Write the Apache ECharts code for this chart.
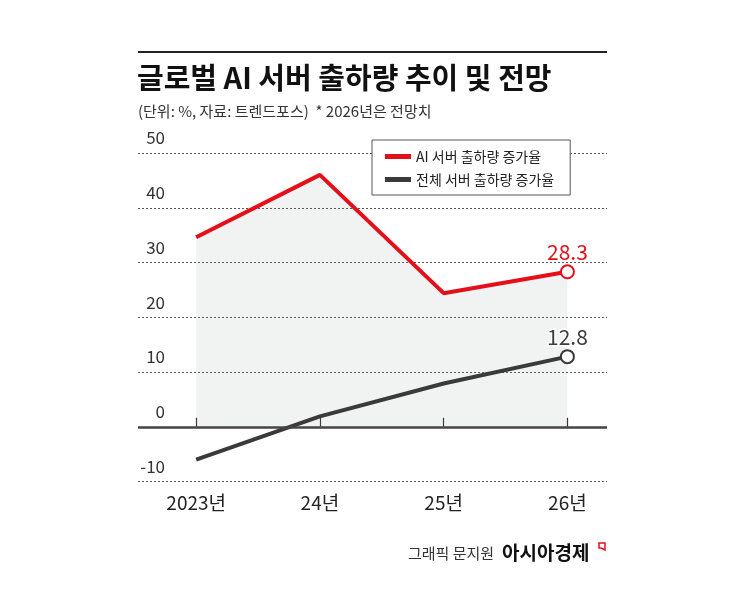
<!DOCTYPE html>
<html>
<head>
<meta charset="utf-8">
<script src="https://cdn.jsdelivr.net/npm/echarts@6/dist/echarts.min.js"></script>
<style>
html,body{margin:0;padding:0;background:#fff;}
#chart{width:745px;height:596px;}
</style>
</head>
<body>
<div id="chart"></div>
<script>
const categories = ['2023년', '24년', '25년', '26년'];
const aiServerGrowth = [34.6, 46.0, 24.4, 28.3];
const totalServerGrowth = [-6.0, 1.9, 7.9, 12.8];
const yTicks = [-10, 0, 10, 20, 30, 40, 50];
const seriesNames = ['AI 서버 출하량 증가율', '전체 서버 출하량 증가율'];

const FONT = '"Noto Sans CJK KR", "Noto Sans", sans-serif';
const RED = '#e50f1a';
const DARK = '#3a3a3a';

function buildData(values, color) {
  const last = values.length - 1;
  return values.map((v, i) => {
    if (i !== last) return { value: [i, v], symbol: 'none' };
    return {
      value: [i, v],
      symbol: 'emptyCircle',
      symbolSize: 13,
      itemStyle: { color: color, borderColor: color, borderWidth: 3 },
      label: {
        show: true, position: 'top', distance: 2,
        fontSize: 21, fontFamily: FONT, color: color,
        textBorderColor: '#fff', textBorderWidth: 3,
        formatter: p => p.value[1].toFixed(1)
      }
    };
  });
}

const chart = echarts.init(document.getElementById('chart'), null, { renderer: 'canvas' });
chart.setOption({
  animation: false,
  backgroundColor: '#fff',
  textStyle: { fontFamily: FONT },
  grid: { left: 138, right: 138, top: 153, bottom: 114.5, containLabel: false },
  xAxis: {
    type: 'value',
    min: -0.47, max: 3.32,
    axisLine: { show: false },
    splitLine: { show: false },
    axisTick: {
      show: true, inside: true, length: 9,
      customValues: [0, 1, 2, 3],
      lineStyle: { color: '#333', width: 1.2 }
    },
    axisLabel: {
      customValues: [0, 1, 2, 3],
      margin: 12,
      fontSize: 19, fontFamily: FONT, color: '#222',
      formatter: v => categories[Math.round(v)]
    }
  },
  yAxis: {
    type: 'value',
    min: yTicks[0], max: yTicks[yTicks.length - 1], interval: 10,
    axisLine: { show: false },
    axisTick: { show: false },
    splitLine: { show: true, lineStyle: { color: '#555', width: 1, type: [2, 2] } },
    axisLabel: {
      inside: true, align: 'right', margin: 27,
      verticalAlign: 'bottom', lineHeight: 30,
      fontSize: 17, fontFamily: FONT, color: '#333'
    }
  },
  legend: {
    orient: 'vertical',
    left: 372, top: 140,
    padding: [8, 16, 7, 13],
    itemGap: 6,
    itemWidth: 26, itemHeight: 5,
    icon: 'rect',
    backgroundColor: '#fff',
    borderColor: '#555', borderWidth: 1, borderRadius: 0,
    textStyle: { fontSize: 14, fontFamily: FONT, color: '#222', lineHeight: 17 },
    data: seriesNames
  },
  series: [
    {
      name: seriesNames[0],
      type: 'line',
      z: 2,
      color: RED,
      itemStyle: { color: RED },
      lineStyle: { color: RED, width: 4 },
      areaStyle: { color: 'rgba(130,145,145,0.16)' },
      data: buildData(aiServerGrowth, RED)
    },
    {
      name: seriesNames[1],
      type: 'line',
      z: 3,
      color: DARK,
      itemStyle: { color: DARK },
      lineStyle: { color: DARK, width: 4 },
      data: buildData(totalServerGrowth, DARK),
      markLine: {
        silent: true,
        symbol: ['none', 'none'],
        label: { show: false },
        lineStyle: { color: '#444', width: 2.5, type: 'solid' },
        data: [{ yAxis: 0 }]
      }
    }
  ],
  graphic: [
    { type: 'line', shape: { x1: 138, y1: 52, x2: 607, y2: 52 }, style: { stroke: '#222', lineWidth: 2 } },
    { type: 'text', x: 137, y: 78, style: { text: '글로벌 AI 서버 출하량 추이 및 전망', font: 'bold 29px ' + FONT, fill: '#111', textVerticalAlign: 'middle' } },
    { type: 'text', x: 138, y: 111, style: { text: '(단위: %, 자료: 트렌드포스)  * 2026년은 전망치', font: '15px ' + FONT, fill: '#333', textVerticalAlign: 'middle' } },
    { type: 'text', x: 408, y: 553, style: { text: '그래픽 문지원', font: '15px ' + FONT, fill: '#333', textVerticalAlign: 'middle' } },
    { type: 'text', x: 502, y: 553, style: { text: '아시아경제', font: 'bold 19px ' + FONT, fill: '#111', textVerticalAlign: 'middle' } },
    { type: 'polygon', shape: { points: [[599, 543], [605, 543], [605, 550], [601, 548], [599, 548]] }, style: { fill: 'none', stroke: '#e50f1a', lineWidth: 1.5 } }
  ]
});
</script>
</body>
</html>
